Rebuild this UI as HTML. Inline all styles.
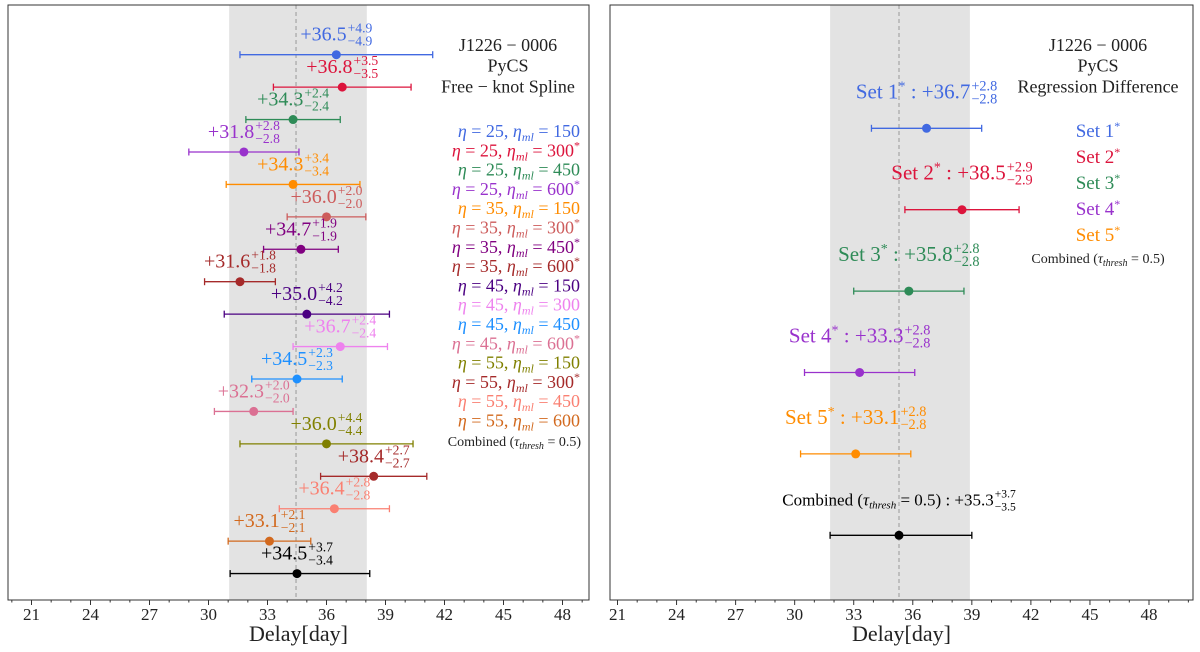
<!DOCTYPE html>
<html><head><meta charset="utf-8">
<style>
html,body{margin:0;padding:0;background:#fff;}
svg{display:block;font-family:"Liberation Serif","DejaVu Serif",serif;}
</style></head>
<body>
<svg id="chart" width="1200" height="652" viewBox="0 0 1200 652">
  <g id="left"></g>
  <g id="right"></g>
</svg>
<script>
// ---------- data: left panel ----------
const leftValues = [36.5,36.8,34.3,31.8,34.3,36.0,34.7,31.6,35.0,36.7,34.5,32.3,36.0,38.4,36.4,33.1,34.5];
const leftErrPlus = [4.9,3.5,2.4,2.8,3.4,2.0,1.9,1.8,4.2,2.4,2.3,2.0,4.4,2.7,2.8,2.1,3.7];
const leftErrMinus = [4.9,3.5,2.4,2.8,3.4,2.0,1.9,1.8,4.2,2.4,2.3,2.0,4.4,2.7,2.8,2.1,3.4];
const leftColors = ['#4169e1','#dc143c','#2e8b57','#9932cc','#ff8c00','#cd5c5c','#800080','#a52a2a','#4b0082','#ee82ee','#1e90ff','#db7093','#808000','#a52a2a','#fa8072','#d2691e','#000000'];
const leftLegend = [['25','150',''],['25','300','*'],['25','450',''],['25','600','*'],['35','150',''],['35','300','*'],['35','450','*'],['35','600','*'],['45','150',''],['45','300',''],['45','450',''],['45','600','*'],['55','150',''],['55','300','*'],['55','450',''],['55','600','']];
const leftBand = [31.05, 38.05];
const leftCombined = 34.45;
// ---------- data: right panel ----------
const rightNames = ['1','2','3','4','5','Combined'];
const rightValues = [36.7,38.5,35.8,33.3,33.1,35.3];
const rightErrPlus = [2.8,2.9,2.8,2.8,2.8,3.7];
const rightErrMinus = [2.8,2.9,2.8,2.8,2.8,3.5];
const rightColors = ['#4169e1','#dc143c','#2e8b57','#9932cc','#ff8c00','#000000'];
const rightBand = [31.8, 38.9];
const rightCombined = 35.3;
const tickValues = [21,24,27,30,33,36,39,42,45,48];

const NS='http://www.w3.org/2000/svg';
function el(parent,tag,attrs){const e=document.createElementNS(NS,tag);for(const k in attrs)e.setAttribute(k,attrs[k]);parent.appendChild(e);return e;}

function makeX(px21,px48){const s=(px48-px21)/27;return v=>px21+(v-21)*s;}

function frame(g,x0,x1,y0,y1,xs,band,comb){
  const r=el(g,'rect',{x:xs(band[0]),y:y0,width:xs(band[1])-xs(band[0]),height:y1-y0,fill:'#e3e3e3'});
  
  
  const d=el(g,'line',{x1:xs(comb),x2:xs(comb),y1:y0,y2:y1,stroke:'#999','stroke-width':1,'stroke-dasharray':'4,3'});
  
  
  const f=el(g,'rect',{x:x0,y:y0,width:x1-x0,height:y1-y0,fill:'none',stroke:'#333','stroke-width':1});
  
  
  for(let v=20;v<=50;v++){
    const x=xs(v); if(x<x0||x>x1) continue;
    const major=tickValues.includes(v);
    el(g,'line',{x1:x,x2:x,y1:y1,y2:y1+(major?5:2.5),stroke:'#333','stroke-width':1});
  }
  tickValues.forEach(v=>{
    const t=el(g,'text',{x:xs(v),y:y1+20,'text-anchor':'middle','font-size':17,fill:'#222'});
    t.textContent=v;
    
    
  });
  const xt=el(g,'text',{x:(x0+x1)/2,y:641,'text-anchor':'middle','font-size':22,fill:'#222'});
  xt.textContent='Delay[day]';
  
  
}

function valueLabel(g,cx,baseline,prefixHtml,val,ep,em,color,fs){
  const grp=el(g,'g',{});
  
  
  const main=el(grp,'text',{x:0,y:baseline,'font-size':fs,fill:color});
  main.innerHTML=prefixHtml+'<tspan>+'+val.toFixed(1)+'</tspan>';
  const w=main.getComputedTextLength();
  const sup=el(grp,'text',{x:w+1,y:baseline-8,'font-size':fs*0.68,fill:color});
  sup.textContent='+'+ep.toFixed(1);
  const sub=el(grp,'text',{x:w+1,y:baseline+5,'font-size':fs*0.68,fill:color});
  sub.textContent='\u2212'+em.toFixed(1);
  const tw=w+1+Math.max(sup.getComputedTextLength(),sub.getComputedTextLength());
  grp.setAttribute('transform','translate('+(cx-tw/2)+',0)');
}

function errbar(g,xs,y,v,ep,em,c,name){
  const grp=el(g,'g',{});
  
  
  const a=xs(v-em),b=xs(v+ep);
  el(grp,'line',{x1:a,x2:b,y1:y,y2:y,stroke:c,'stroke-width':1.3});
  el(grp,'line',{x1:a,x2:a,y1:y-3.5,y2:y+3.5,stroke:c,'stroke-width':1.3});
  el(grp,'line',{x1:b,x2:b,y1:y-3.5,y2:y+3.5,stroke:c,'stroke-width':1.3});
  el(grp,'circle',{cx:xs(v),cy:y,r:4.5,fill:c});
}

const combinedHtml='Combined (<tspan font-style="italic">τ</tspan><tspan font-size="10" font-style="italic" dy="3">thresh</tspan><tspan dy="-3"> = 0.5)</tspan>';

// ----- left panel -----
(function(){
  const g=document.getElementById('left');
  const xs=makeX(31.5,562.5);
  frame(g,8,589,5,600,xs,leftBand,leftCombined);
  leftValues.forEach((v,i)=>{
    const y=54.7+i*32.43;
    errbar(g,xs,y,v,leftErrPlus[i],leftErrMinus[i],leftColors[i],'error-bar-'+(i+1));
    valueLabel(g,xs(v),y-14,'',v,leftErrPlus[i],leftErrMinus[i],leftColors[i],20);
  });
  ['J1226 \u2212 0006','PyCS','Free \u2212 knot Spline'].forEach((s,i)=>{
    const t=el(g,'text',{x:508,y:51+i*20.7,'text-anchor':'middle','font-size':18,fill:'#222'});
    t.textContent=s;
    
    
  });
  leftLegend.forEach((e,i)=>{
    const t=el(g,'text',{x:580,y:137+i*19.3,'text-anchor':'end','font-size':18,fill:leftColors[i]});
    t.innerHTML='<tspan font-style="italic">η</tspan> = '+e[0]+', <tspan font-style="italic">η</tspan><tspan font-size="12" font-style="italic" dy="4">ml</tspan><tspan dy="-4"> = '+e[1]+'</tspan>'+(e[2]?'<tspan font-size="12" dy="-7">*</tspan>':'');
    
    
  });
  const c=el(g,'text',{x:581,y:446,'text-anchor':'end','font-size':14,fill:'#222'});
  c.innerHTML=combinedHtml;
  
  
})();

// ----- right panel -----
(function(){
  const g=document.getElementById('right');
  const xs=makeX(617.5,1149);
  frame(g,610,1193,5,600,xs,rightBand,rightCombined);
  rightValues.forEach((v,i)=>{
    const y=128.3+i*81.4;
    errbar(g,xs,y,v,rightErrPlus[i],rightErrMinus[i],rightColors[i],'error-bar-set-'+rightNames[i].toLowerCase());
    if(i<5) valueLabel(g,xs(v),y-30,'Set '+rightNames[i]+'<tspan font-size="14" dy="-8">*</tspan><tspan dy="8"> : </tspan>',v,rightErrPlus[i],rightErrMinus[i],rightColors[i],21);
    else valueLabel(g,xs(v),y-30,'Combined (<tspan font-style="italic">τ</tspan><tspan font-size="11" font-style="italic" dy="3">thresh</tspan><tspan dy="-3"> = 0.5) : </tspan>',v,rightErrPlus[i],rightErrMinus[i],rightColors[i],17);
  });
  ['J1226 \u2212 0006','PyCS','Regression Difference'].forEach((s,i)=>{
    const t=el(g,'text',{x:1098,y:51+i*20.7,'text-anchor':'middle','font-size':18,fill:'#222'});
    t.textContent=s;
    
    
  });
  for(let i=0;i<5;i++){
    const t=el(g,'text',{x:1098,y:137+i*26,'text-anchor':'middle','font-size':19,fill:rightColors[i]});
    t.innerHTML='Set '+(i+1)+'<tspan font-size="12" dy="-7">*</tspan>';
    
    
  }
  const c=el(g,'text',{x:1098,y:263,'text-anchor':'middle','font-size':14,fill:'#222'});
  c.innerHTML=combinedHtml;
  
  
})();
</script>
</body></html>
